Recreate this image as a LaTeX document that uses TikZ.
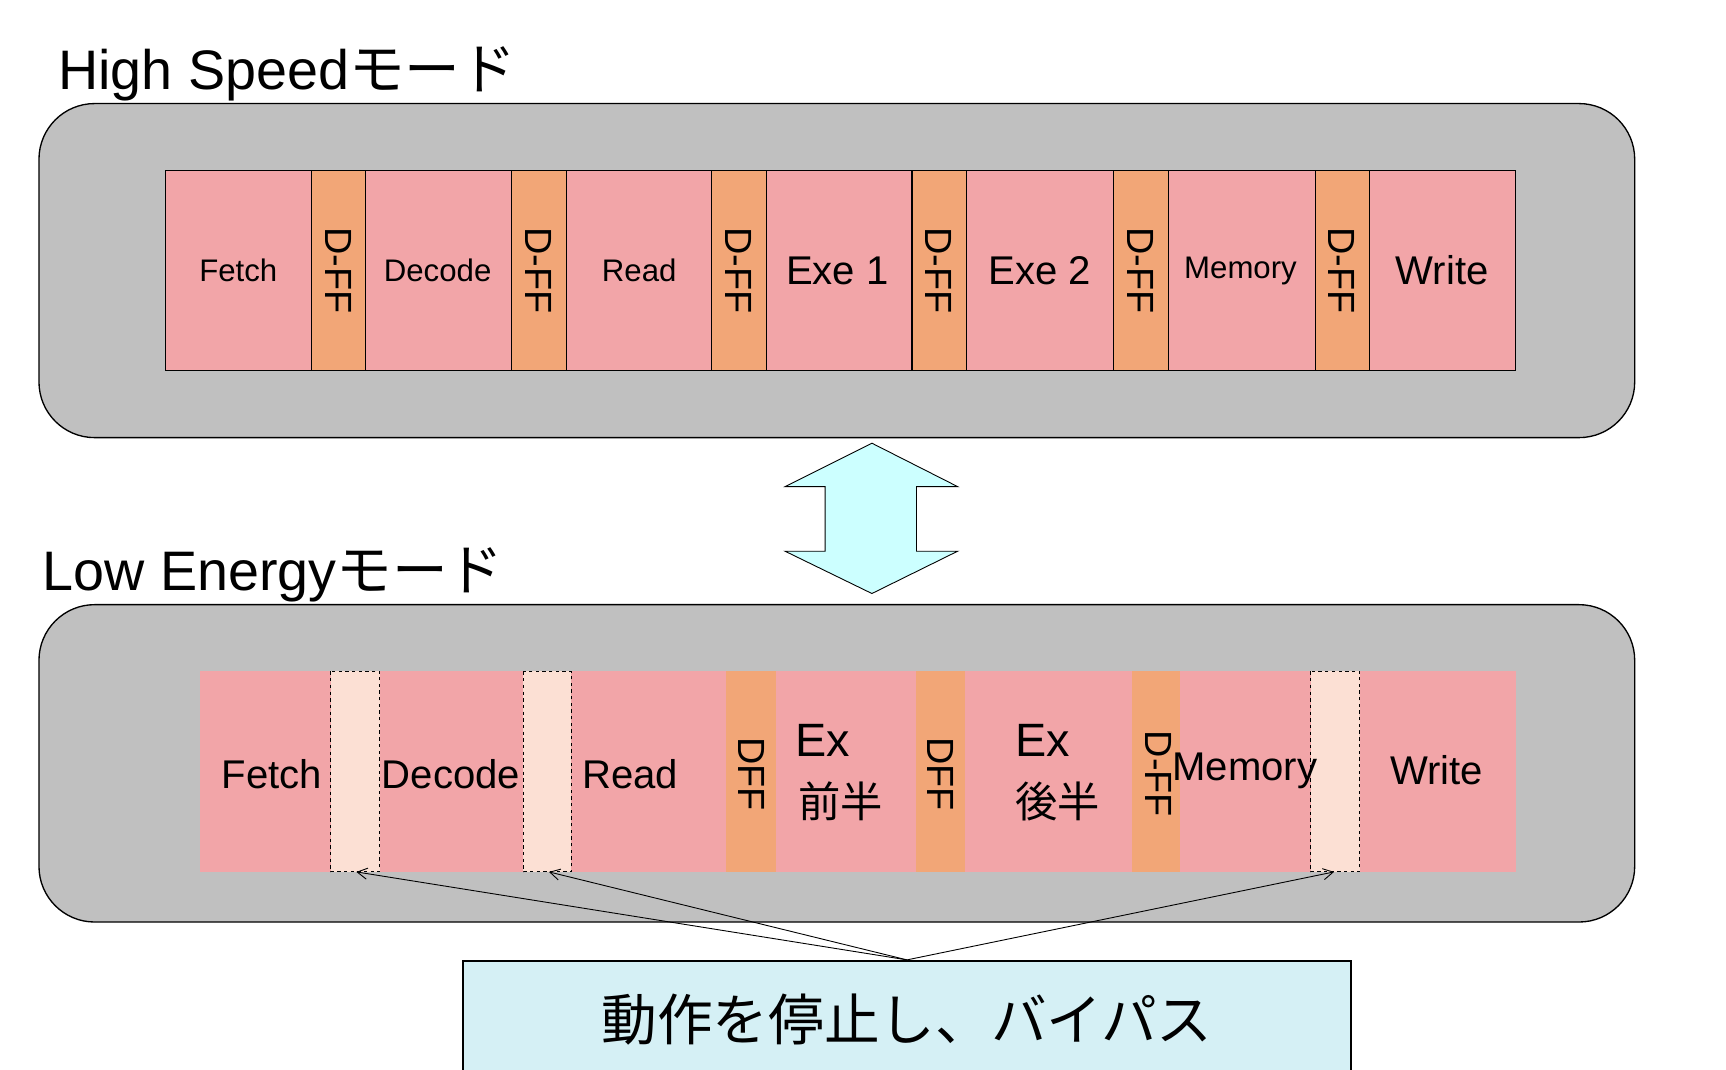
\documentclass[tikz,border=0pt]{standalone}
\usepackage{fontspec}
\setmainfont{Liberation Sans}
\newfontfamily\jp{Noto Sans CJK JP}
\usetikzlibrary{arrows.meta}
\definecolor{frm}{HTML}{C0C0C0}
\definecolor{stg}{HTML}{F2A5A8}
\definecolor{dff}{HTML}{F2A677}
\definecolor{byp}{HTML}{FCE0D4}
\definecolor{arr}{HTML}{CCFFFF}
\definecolor{cal}{HTML}{D5F0F5}
\begin{document}
\begin{tikzpicture}[x=1pt,y=-1pt,
  frame/.style={fill=frm,draw=black,line width=1.2pt,rounded corners=50pt},
  stage/.style={fill=stg},
  ffbox/.style={fill=dff},
  bypass/.style={fill=byp,draw=black,dashed,line width=0.8pt},
  lbl/.style={inner sep=0pt,font=\fontsize{28}{30}\selectfont},
  big/.style={inner sep=0pt,font=\fontsize{36}{38}\selectfont},
  ffl/.style={inner sep=0pt,rotate=-90,font=\fontsize{34}{36}\selectfont}]
\useasboundingbox (0,0) rectangle (1550,960);
\node[anchor=base west,inner sep=0pt,font=\fontsize{50}{52}\selectfont] (t1) at (52,80) {High Speed{\jp モード}};
\draw[frame] (35,93) rectangle (1468,393);
\foreach \a/\b/\s in {149/280/stage,280/328/ffbox,328/459/stage,459/509/ffbox,509/639/stage,639/688/ffbox,688/819/stage,819/868/ffbox,868/1000/stage,1000/1049/ffbox,1049/1181/stage,1181/1230/ffbox,1230/1361/stage}
  \draw[\s,draw=black,line width=1pt] (\a,153) rectangle (\b,333);
\node[lbl] (f1) at (214,243) {Fetch};
\node[lbl] (d1) at (393,243) {Decode};
\node[lbl] (r1) at (574,243) {Read};
\node[big] (e1) at (752,243) {Exe 1};
\node[big] (e2) at (934,243) {Exe 2};
\node[lbl] (m1) at (1114,243) {Memory};
\node[big] (w1) at (1295,243) {Write};
\foreach \x [count=\i] in {304,484,663,843,1024,1205}
  \node[ffl] (ff\i) at (\x,243) {D-FF};
\draw[fill=arr,draw=black,line width=0.8pt] (783,398) -- (860,437) -- (823,437) -- (823,495) -- (860,495) -- (783,533) -- (705,495) -- (741,495) -- (741,437) -- (705,437) -- cycle;
\node[anchor=base west,inner sep=0pt,font=\fontsize{50}{52}\selectfont] (t2) at (38,530) {Low Energy{\jp モード}};
\draw[frame] (35,543) rectangle (1468,828);
\foreach \a/\b/\s in {180/297/stage,341/470/stage,513/652/stage,652/697/ffbox,697/823/stage,823/867/ffbox,867/1017/stage,1017/1060/ffbox,1060/1177/stage,1221/1361/stage}
  \fill[\s] (\a,603) rectangle (\b,783);
\draw[bypass] (297,603) rectangle (341,783);
\draw[bypass] (470,603) rectangle (513,783);
\draw[bypass] (1177,603) rectangle (1221,783);
\coordinate (b1) at (320,783);
\coordinate (b2) at (493,783);
\coordinate (b3) at (1198,783);
\node[big] (f2) at (244,695) {Fetch};
\node[big] (d2) at (405,695) {Decode};
\node[big] (r2) at (566,695) {Read};
\node[ffl] (g1) at (675,695) {DFF};
\node[ffl] (g2) at (845,695) {DFF};
\node[ffl] (g3) at (1040,695) {D-FF};
\node[inner sep=0pt,font=\fontsize{42}{44}\selectfont] (x1) at (739,665) {Ex};
\node[inner sep=0pt,font=\jp\fontsize{38}{40}\selectfont] (x1b) at (755,720) {前半};
\node[inner sep=0pt,font=\fontsize{42}{44}\selectfont] (x2) at (936,665) {Ex};
\node[inner sep=0pt,font=\jp\fontsize{38}{40}\selectfont] (x2b) at (950,720) {後半};
\node[big] (m2) at (1118,692) {Memory};
\node[big] (w2) at (1290,692) {Write};
\node[draw=black,line width=2pt,fill=cal,minimum width=797pt,minimum height=105pt,inner sep=0pt,font=\jp\fontsize{50}{52}\selectfont] (c) at (814.5,915.5) {動作を停止し、バイパス};
\foreach \t in {b1,b2,b3}
  \draw[-{Straight Barb[length=9pt,width=10pt]},line width=0.8pt] (c.north) -- (\t);
\end{tikzpicture}
\end{document}
